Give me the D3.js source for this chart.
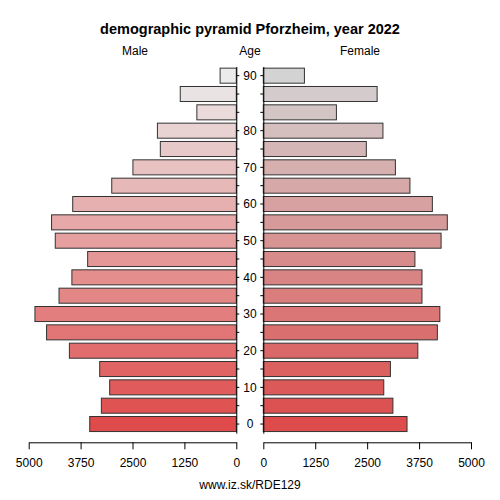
<!DOCTYPE html>
<html lang="en">
<head>
  <meta charset="UTF-8">
  <title>demographic pyramid Pforzheim, year 2022</title>
  <script src="https://d3js.org/d3.v7.min.js"></script>
  <style>
    body { margin: 0; background: #fff; font-family: "Liberation Sans", Arial, sans-serif; }
    svg { display: block; }
    .axis text { font-size: 12px; font-family: "Liberation Sans", Arial, sans-serif; fill: #000; }
    .axis path, .axis line { stroke: #000; }
  </style>
</head>
<body>
  <script>
    // age groups, bottom to top
    const ageGroups = ["0", "5", "10", "15", "20", "25", "30", "35", "40", "45",
                       "50", "55", "60", "65", "70", "75", "80", "85", "88", "90"];
    const ageTickLabels = ["0", "", "10", "", "20", "", "30", "", "40", "",
                           "50", "", "60", "", "70", "", "80", "", "", "90"];
    const male = [3530, 3250, 3050, 3290, 4020, 4570, 4850, 4270, 3960, 3580,
                  4360, 4450, 3940, 3000, 2490, 1830, 1900, 950, 1350, 390];
    const female = [3460, 3120, 2900, 3060, 3720, 4190, 4250, 3820, 3820, 3650,
                    4280, 4430, 4070, 3530, 3180, 2480, 2880, 1760, 2740, 990];
    const xTicks = [0, 1250, 2500, 3750, 5000];

    const width = 500, height = 500;

    const svg = d3.select("body").append("svg")
      .attr("width", width)
      .attr("height", height);

    const y = d3.scaleBand()
      .domain(ageGroups)
      .range([433.2, 66.5])
      .paddingInner(0.18)
      .paddingOuter(0.09);

    const xLeft = d3.scaleLinear().domain([0, 5000]).range([236.3, 28.7]);
    const xRight = d3.scaleLinear().domain([0, 5000]).range([263.3, 471]);

    const maleColor = d3.scaleLinear()
      .domain([0, ageGroups.length - 1])
      .range(["#df4b4b", "#ebebeb"])
      .interpolate(d3.interpolateRgb);
    const femaleColor = d3.scaleLinear()
      .domain([0, ageGroups.length - 1])
      .range(["#dd4b4b", "#d3d3d3"])
      .interpolate(d3.interpolateRgb);

    // bars
    svg.append("g")
      .selectAll("rect")
      .data(male)
      .join("rect")
      .attr("x", d => xLeft(d))
      .attr("y", (d, i) => y(ageGroups[i]))
      .attr("width", d => xLeft(0) - xLeft(d))
      .attr("height", y.bandwidth())
      .attr("fill", (d, i) => maleColor(i))
      .attr("stroke", "#333")
      .attr("stroke-width", 1);

    svg.append("g")
      .selectAll("rect")
      .data(female)
      .join("rect")
      .attr("x", xRight(0))
      .attr("y", (d, i) => y(ageGroups[i]))
      .attr("width", d => xRight(d) - xRight(0))
      .attr("height", y.bandwidth())
      .attr("fill", (d, i) => femaleColor(i))
      .attr("stroke", "#333")
      .attr("stroke-width", 1);

    // y axes (ticks only, labels in the middle)
    svg.append("g")
      .attr("class", "axis")
      .attr("transform", `translate(${xLeft(0)},0)`)
      .call(d3.axisRight(y).tickSize(3).tickSizeOuter(0).tickFormat(""));

    svg.append("g")
      .attr("class", "axis")
      .attr("transform", `translate(${xRight(0)},0)`)
      .call(d3.axisLeft(y).tickSize(3).tickSizeOuter(0).tickFormat(""));

    svg.append("g")
      .selectAll("text")
      .data(ageGroups)
      .join("text")
      .attr("x", 250)
      .attr("y", d => y(d) + y.bandwidth() / 2)
      .attr("dy", "0.35em")
      .attr("text-anchor", "middle")
      .attr("font-size", "12px")
      .text((d, i) => ageTickLabels[i]);

    // x axes
    svg.append("g")
      .attr("class", "axis")
      .attr("transform", "translate(0,442.3)")
      .call(d3.axisBottom(xLeft).tickValues(xTicks).tickFormat(d3.format("d"))
        .tickSize(7).tickSizeOuter(0).tickPadding(9));

    svg.append("g")
      .attr("class", "axis")
      .attr("transform", "translate(0,442.3)")
      .call(d3.axisBottom(xRight).tickValues(xTicks).tickFormat(d3.format("d"))
        .tickSize(7).tickSizeOuter(0).tickPadding(9));

    // titles
    svg.append("text")
      .attr("x", 250)
      .attr("y", 34)
      .attr("text-anchor", "middle")
      .attr("font-size", "14.5px")
      .attr("font-weight", "bold")
      .text("demographic pyramid Pforzheim, year 2022");

    const heads = [["Male", 135], ["Age", 250], ["Female", 360]];
    svg.append("g")
      .selectAll("text")
      .data(heads)
      .join("text")
      .attr("x", d => d[1])
      .attr("y", 55)
      .attr("text-anchor", "middle")
      .attr("font-size", "12px")
      .text(d => d[0]);

    svg.append("text")
      .attr("x", 250)
      .attr("y", 489)
      .attr("text-anchor", "middle")
      .attr("font-size", "12px")
      .text("www.iz.sk/RDE129");
  </script>
</body>
</html>
